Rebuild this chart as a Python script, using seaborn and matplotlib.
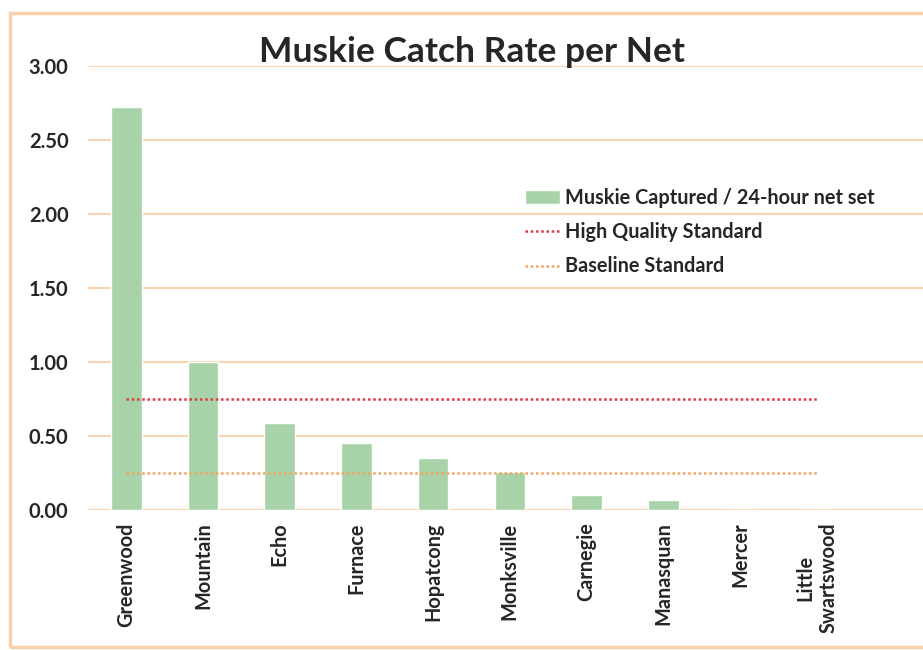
"""Muskie catch rate per net, bar chart with standard lines."""

import matplotlib.pyplot as plt
import numpy as np
import seaborn as sns
from matplotlib.patches import Rectangle

lakes = ["Greenwood", "Mountain", "Echo", "Furnace", "Hopatcong",
         "Monksville", "Carnegie", "Manasquan", "Mercer", "Little\nSwartswood"]
catch_rate = [2.72, 1.00, 0.59, 0.45, 0.35, 0.26, 0.10, 0.07, 0.0, 0.0]
high_quality = [0.75] * len(lakes)
baseline = [0.25] * len(lakes)
y_ticks = [0.0, 0.5, 1.0, 1.5, 2.0, 2.5, 3.0]

BAR = "#a8d3a8"
GRID = "#f9d3b2"
FONT = ["Lato", "DejaVu Sans"]

sns.set_style("white")
plt.rcParams["font.family"] = FONT
plt.rcParams["font.weight"] = "bold"

fig = plt.figure(figsize=(9.23, 6.5), dpi=100)
ax = fig.add_axes([88 / 923, 140 / 650, 1 - 88 / 923, (510 - 66) / 650])

sns.barplot(x=lakes, y=catch_rate, color=BAR, width=0.4, saturation=1,
            ax=ax, label="Muskie Captured / 24-hour net set", zorder=2)
pos = np.arange(len(lakes))
ax.plot(pos, high_quality, linestyle=(0, (1, 1.1)), color="#e03a3e", lw=1.8,
        label="High Quality Standard", zorder=3)
ax.plot(pos, baseline, linestyle=(0, (1, 1.1)), color="#f2a35e", lw=1.8,
        label="Baseline Standard", zorder=3)

ax.set_ylim(0, 3.0)
ax.set_xlim(-0.5, (923 - 88) / 76.7 - 0.5)
ax.set_yticks(y_ticks)
ax.set_yticklabels([f"{v:.2f}" for v in y_ticks])
ax.yaxis.grid(True, color=GRID, lw=1.5, zorder=0)
ax.set_axisbelow(True)
for s in ax.spines.values():
    s.set_visible(False)
ax.axhline(0, color=GRID, lw=1.5, zorder=1)
ax.tick_params(axis="y", length=0, pad=14, labelsize=14.5)
ax.tick_params(axis="x", length=0, pad=9, labelsize=14.3, rotation=90)
for t in ax.get_xticklabels():
    t.set_fontweight("bold")
for t in ax.get_yticklabels():
    t.set_fontweight("bold")
ax.set_xlabel("")
ax.set_ylabel("")

fig.text(472 / 923, 1 - 52 / 650, "Muskie Catch Rate per Net", ha="center",
         va="center", fontsize=25.5, fontweight="bold")

handles, labels = ax.get_legend_handles_labels()
order = [labels.index("Muskie Captured / 24-hour net set"),
         labels.index("High Quality Standard"), labels.index("Baseline Standard")]
leg = ax.legend([handles[i] for i in order], [labels[i] for i in order],
                loc="upper left", bbox_to_anchor=(507 / 923, 1 - 170 / 650),
                bbox_transform=fig.transFigure, frameon=False, fontsize=14.3,
                handlelength=1.75, handletextpad=0.25, labelspacing=0.72)
for t in leg.get_texts():
    t.set_fontweight("bold")

fig.patches.append(Rectangle((10 / 923, 3 / 650), 1.2, 1 - 16 / 650,
                             transform=fig.transFigure, fill=False,
                             edgecolor="#f9cfa8", lw=2.5))

fig.savefig("out.png", dpi=100)
